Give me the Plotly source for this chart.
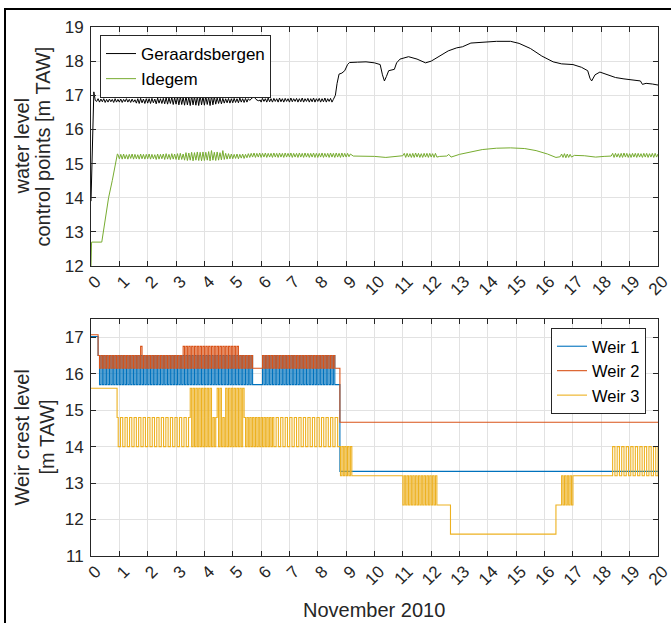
import plotly.graph_objects as go

# ---------------- data ----------------
x_ticks = list(range(0, 21))
x_tick_labels = [str(v) for v in x_ticks]
y1_ticks = [12, 13, 14, 15, 16, 17, 18, 19]
y2_ticks = [11, 12, 13, 14, 15, 16, 17]

# Geraardsbergen water level
ger_x = ([0, 0.05, 0.1, 0.15] +
         [0.2, 0.25, 0.3, 0.35, 0.4, 0.45, 0.5, 0.55, 0.6, 0.65, 0.7, 0.75, 0.8, 0.85, 0.9, 0.95] +
         [1.0, 1.05, 1.1, 1.15, 1.2, 1.25, 1.3, 1.35, 1.4, 1.45, 1.5, 1.55, 1.6, 1.65, 1.7, 1.75, 1.8, 1.85, 1.9, 1.95] +
         [2.0, 2.05, 2.1, 2.15, 2.2, 2.25, 2.3, 2.35, 2.4, 2.45, 2.5, 2.55, 2.6, 2.65, 2.7, 2.75, 2.8, 2.85, 2.9, 2.95] +
         [3.0, 3.05, 3.1, 3.15, 3.2, 3.25, 3.3, 3.35, 3.4, 3.45, 3.5, 3.55, 3.6, 3.65, 3.7, 3.75, 3.8, 3.85, 3.9, 3.95] +
         [4.0, 4.05, 4.1, 4.15, 4.2, 4.25, 4.3, 4.35, 4.4, 4.45, 4.5, 4.55, 4.6, 4.65, 4.7, 4.75, 4.8, 4.85, 4.9, 4.95] +
         [5.0, 5.05, 5.1, 5.15, 5.2, 5.25, 5.3, 5.35, 5.4, 5.45, 5.5, 5.55, 5.6] +
         [5.68, 5.75, 5.82, 5.9, 5.97] +
         [6.0, 6.05, 6.1, 6.15, 6.2, 6.25, 6.3, 6.35, 6.4, 6.45, 6.5, 6.55, 6.6, 6.65, 6.7, 6.75, 6.8, 6.85, 6.9, 6.95] +
         [7.0, 7.05, 7.1, 7.15, 7.2, 7.25, 7.3, 7.35, 7.4, 7.45, 7.5, 7.55, 7.6, 7.65, 7.7, 7.75, 7.8, 7.85, 7.9, 7.95] +
         [8.0, 8.05, 8.1, 8.15, 8.2, 8.25, 8.3, 8.35, 8.4, 8.45, 8.5, 8.55] +
         [8.62, 8.68, 8.75, 8.85, 8.95, 9.05, 9.12, 9.4, 9.7, 10.0, 10.2, 10.28, 10.35, 10.42, 10.5,
          10.7, 10.78, 10.9, 11.2, 11.5, 11.8, 12.0, 12.3, 12.6, 12.9, 13.1, 13.4, 13.8, 14.3, 14.8,
          15.1, 15.5, 15.9, 16.3, 16.6, 17.0, 17.3, 17.52, 17.6, 17.66, 17.78, 17.95, 18.2, 18.5,
          18.8, 19.1, 19.38, 19.45, 19.58, 19.8, 20.0])
ger_y = ([13.9, 15.9, 17.1, 16.85] +
         [16.82, 16.9, 16.8, 16.89, 16.81, 16.9, 16.79, 16.88, 16.8, 16.89, 16.81, 16.88, 16.79, 16.9, 16.8, 16.88] +
         [16.8, 16.89, 16.79, 16.88, 16.81, 16.9, 16.8, 16.88, 16.79, 16.89, 16.8, 16.87, 16.77, 16.9, 16.76, 16.91, 16.78, 16.89, 16.76, 16.9] +
         [16.77, 16.9, 16.76, 16.91, 16.78, 16.89, 16.75, 16.92, 16.77, 16.9, 16.76, 16.91, 16.75, 16.93, 16.74, 16.92, 16.76, 16.94, 16.73, 16.93] +
         [16.74, 16.95, 16.72, 16.96, 16.73, 16.94, 16.71, 16.97, 16.72, 16.95, 16.7, 16.98, 16.72, 16.96, 16.71, 16.97, 16.7, 16.99, 16.72, 16.96] +
         [16.71, 16.97, 16.73, 16.95, 16.7, 16.98, 16.72, 16.96, 16.74, 16.93, 16.76, 16.92, 16.75, 16.91, 16.77, 16.9, 16.78, 16.91, 16.77, 16.9] +
         [16.78, 16.91, 16.79, 16.9, 16.78, 16.92, 16.8, 16.9, 16.79, 16.91, 16.8, 16.9, 16.85] +
         [16.92, 16.96, 16.88, 16.84, 16.86] +
         [16.8, 16.91, 16.82, 16.9, 16.8, 16.92, 16.81, 16.9, 16.8, 16.91, 16.82, 16.9, 16.8, 16.92, 16.81, 16.9, 16.8, 16.91, 16.82, 16.9] +
         [16.8, 16.92, 16.81, 16.9, 16.82, 16.91, 16.8, 16.9, 16.81, 16.92, 16.8, 16.9, 16.82, 16.91, 16.8, 16.9, 16.81, 16.92, 16.8, 16.9] +
         [16.82, 16.91, 16.8, 16.9, 16.81, 16.92, 16.8, 16.9, 16.82, 16.91, 16.8, 16.88] +
         [17.0, 17.35, 17.62, 17.65, 17.72, 17.9, 17.96, 17.97, 17.98, 17.95, 17.9, 17.6, 17.42, 17.55, 17.72,
          17.76, 17.95, 18.06, 18.13, 18.06, 17.95, 18.0, 18.15, 18.3, 18.39, 18.42, 18.53, 18.55, 18.58, 18.58,
          18.52, 18.37, 18.15, 17.98, 17.92, 17.9, 17.82, 17.72, 17.5, 17.42, 17.6, 17.68, 17.6, 17.52,
          17.48, 17.45, 17.42, 17.32, 17.35, 17.33, 17.3])

# Idegem water level
ide_x = ([0, 0.02, 0.38, 0.55, 0.62, 0.75, 0.93] +
         [0.95] +
         [1.0, 1.05, 1.1, 1.15, 1.2, 1.25, 1.3, 1.35, 1.4, 1.45, 1.5, 1.55, 1.6, 1.65, 1.7, 1.75, 1.8, 1.85, 1.9, 1.95] +
         [2.0, 2.05, 2.1, 2.15, 2.2, 2.25, 2.3, 2.35, 2.4, 2.45, 2.5, 2.55, 2.6, 2.65, 2.7, 2.75, 2.8, 2.85, 2.9, 2.95] +
         [3.0, 3.05, 3.1, 3.15, 3.2, 3.25, 3.3, 3.35, 3.4, 3.45, 3.5, 3.55, 3.6, 3.65, 3.7, 3.75, 3.8, 3.85, 3.9, 3.95] +
         [4.0, 4.05, 4.1, 4.15, 4.2, 4.25, 4.3, 4.35, 4.4, 4.45, 4.5, 4.55, 4.6, 4.65, 4.7, 4.75, 4.8, 4.85, 4.9, 4.95] +
         [5.0, 5.05, 5.1, 5.15, 5.2, 5.25, 5.3, 5.35, 5.4, 5.45, 5.5, 5.55, 5.6, 5.65, 5.7, 5.75, 5.8, 5.85, 5.9, 5.95] +
         [6.0, 6.05, 6.1, 6.15, 6.2, 6.25, 6.3, 6.35, 6.4, 6.45, 6.5, 6.55, 6.6, 6.65, 6.7, 6.75, 6.8, 6.85, 6.9, 6.95] +
         [7.0, 7.05, 7.1, 7.15, 7.2, 7.25, 7.3, 7.35, 7.4, 7.45, 7.5, 7.55, 7.6, 7.65, 7.7, 7.75, 7.8, 7.85, 7.9, 7.95] +
         [8.0, 8.05, 8.1, 8.15, 8.2, 8.25, 8.3, 8.35, 8.4, 8.45, 8.5, 8.55, 8.6, 8.65, 8.7, 8.75, 8.8, 8.85, 8.9, 8.95] +
         [9.0, 9.05, 9.1, 9.15] +
         [9.25, 9.6, 10.0, 10.4, 10.8, 11.0] +
         [11.05, 11.1, 11.15, 11.2, 11.25, 11.3, 11.35, 11.4, 11.45, 11.5, 11.55, 11.6, 11.65, 11.7, 11.75,
          11.8, 11.85, 11.9, 11.95, 12.0, 12.05, 12.1, 12.15, 12.2] +
         [12.3, 12.55, 12.62, 12.7, 13.0, 13.4, 13.8, 14.3, 14.8, 15.3, 15.7, 16.1, 16.4, 16.55] +
         [16.6, 16.65, 16.7, 16.75, 16.8, 16.85, 16.9, 16.95] +
         [17.05, 17.4, 17.8, 18.1, 18.35] +
         [18.4, 18.45, 18.5, 18.55, 18.6, 18.65, 18.7, 18.75, 18.8, 18.85, 18.9, 18.95,
          19.0, 19.05, 19.1, 19.15, 19.2, 19.25, 19.3, 19.35, 19.4, 19.45, 19.5, 19.55,
          19.6, 19.65, 19.7, 19.75, 19.8, 19.85, 19.9, 19.95, 20.0])
ide_y = ([12.0, 12.7, 12.7, 13.6, 14.0, 14.5, 15.28] +
         [15.27] +
         [15.14, 15.27, 15.13, 15.28, 15.14, 15.26, 15.13, 15.27, 15.15, 15.28, 15.13, 15.27, 15.14, 15.26, 15.13, 15.28, 15.14, 15.27, 15.13, 15.27] +
         [15.14, 15.28, 15.13, 15.27, 15.14, 15.26, 15.12, 15.28, 15.13, 15.27, 15.14, 15.28, 15.12, 15.29, 15.13, 15.27, 15.12, 15.29, 15.13, 15.28] +
         [15.12, 15.29, 15.11, 15.3, 15.12, 15.28, 15.1, 15.32, 15.09, 15.31, 15.1, 15.33, 15.08, 15.32, 15.1, 15.34, 15.09, 15.33, 15.08, 15.34] +
         [15.09, 15.33, 15.1, 15.35, 15.08, 15.38, 15.1, 15.33, 15.09, 15.34, 15.1, 15.32, 15.11, 15.38, 15.12, 15.3, 15.13, 15.29, 15.14, 15.28] +
         [15.14, 15.27, 15.15, 15.28, 15.14, 15.27, 15.16, 15.28, 15.15, 15.27, 15.17, 15.29, 15.18, 15.3, 15.19, 15.31, 15.18, 15.3, 15.19, 15.31] +
         [15.18, 15.3, 15.19, 15.31, 15.18, 15.3, 15.19, 15.3, 15.18, 15.31, 15.19, 15.3, 15.18, 15.31, 15.19, 15.3, 15.18, 15.31, 15.19, 15.3] +
         [15.19, 15.31, 15.18, 15.3, 15.19, 15.3, 15.18, 15.31, 15.19, 15.3, 15.18, 15.31, 15.19, 15.3, 15.18, 15.3, 15.19, 15.31, 15.18, 15.3] +
         [15.18, 15.3, 15.19, 15.31, 15.18, 15.3, 15.19, 15.3, 15.18, 15.31, 15.19, 15.3, 15.18, 15.31, 15.19, 15.3, 15.18, 15.31, 15.19, 15.3] +
         [15.19, 15.3, 15.2, 15.28] +
         [15.22, 15.22, 15.21, 15.18, 15.22, 15.23] +
         [15.3, 15.18, 15.3, 15.19, 15.29, 15.18, 15.3, 15.18, 15.31, 15.19, 15.3, 15.18, 15.29, 15.18, 15.3,
          15.19, 15.3, 15.18, 15.3, 15.19, 15.29, 15.18, 15.3, 15.19] +
         [15.21, 15.22, 15.27, 15.19, 15.27, 15.35, 15.41, 15.45, 15.46, 15.44, 15.38, 15.28, 15.18, 15.2] +
         [15.28, 15.18, 15.29, 15.17, 15.28, 15.18, 15.27, 15.19] +
         [15.24, 15.23, 15.19, 15.21, 15.22] +
         [15.3, 15.18, 15.3, 15.19, 15.29, 15.18, 15.3, 15.18, 15.31, 15.19, 15.3, 15.18,
          15.29, 15.18, 15.3, 15.19, 15.3, 15.18, 15.3, 15.19, 15.29, 15.18, 15.3, 15.19,
          15.3, 15.18, 15.29, 15.19, 15.3, 15.18, 15.3, 15.19, 15.28])

# Weir 1 and Weir 2 share switching times
weir_t = ([0, 0.22] +
          [0.25, 0.3, 0.35, 0.4, 0.45, 0.5, 0.55, 0.6, 0.65, 0.7, 0.75, 0.8, 0.85, 0.9, 0.95] +
          [1.0, 1.05, 1.1, 1.15, 1.2, 1.25, 1.3, 1.35, 1.4, 1.45, 1.5, 1.55, 1.6, 1.65, 1.7, 1.75, 1.8, 1.85, 1.9, 1.95] +
          [2.0, 2.05, 2.1, 2.15, 2.2, 2.25, 2.3, 2.35, 2.4, 2.45, 2.5, 2.55, 2.6, 2.65, 2.7, 2.75, 2.8, 2.85, 2.9, 2.95] +
          [3.0, 3.05, 3.1, 3.15, 3.2, 3.25, 3.3, 3.35, 3.4, 3.45, 3.5, 3.55, 3.6, 3.65, 3.7, 3.75, 3.8, 3.85, 3.9, 3.95] +
          [4.0, 4.05, 4.1, 4.15, 4.2, 4.25, 4.3, 4.35, 4.4, 4.45, 4.5, 4.55, 4.6, 4.65, 4.7, 4.75, 4.8, 4.85, 4.9, 4.95] +
          [5.0, 5.05, 5.1, 5.15, 5.2, 5.25, 5.3, 5.35, 5.4, 5.45, 5.5, 5.55, 5.6, 5.65] +
          [5.7] +
          [6.05, 6.1, 6.15, 6.2, 6.25, 6.3, 6.35, 6.4, 6.45, 6.5, 6.55, 6.6, 6.65, 6.7, 6.75, 6.8, 6.85, 6.9, 6.95] +
          [7.0, 7.05, 7.1, 7.15, 7.2, 7.25, 7.3, 7.35, 7.4, 7.45, 7.5, 7.55, 7.6, 7.65, 7.7, 7.75, 7.8, 7.85, 7.9, 7.95] +
          [8.0, 8.05, 8.1, 8.15, 8.2, 8.25, 8.3, 8.35, 8.4, 8.45, 8.5, 8.55] +
          [8.6, 8.68, 8.78, 20.0])
weir1_y = ([17.02, 17.02] +
           [16.5, 15.7, 16.5, 15.7, 16.5, 15.7, 16.5, 15.7, 16.5, 15.7, 16.5, 15.7, 16.5, 15.7, 16.5] +
           [15.7, 16.5, 15.7, 16.5, 15.7, 16.5, 15.7, 16.5, 15.7, 16.5, 15.7, 16.5, 15.7, 16.5, 15.7, 16.5, 15.7, 16.5, 15.7, 16.5] +
           [15.7, 16.5, 15.7, 16.5, 15.7, 16.5, 15.7, 16.5, 15.7, 16.5, 15.7, 16.5, 15.7, 16.5, 15.7, 16.5, 15.7, 16.5, 15.7, 16.5] +
           [15.7, 16.5, 15.7, 16.5, 15.7, 16.5, 15.7, 16.5, 15.7, 16.5, 15.7, 16.5, 15.7, 16.5, 15.7, 16.5, 15.7, 16.5, 15.7, 16.5] +
           [15.7, 16.5, 15.7, 16.5, 15.7, 16.5, 15.7, 16.5, 15.7, 16.5, 15.7, 16.5, 15.7, 16.5, 15.7, 16.5, 15.7, 16.5, 15.7, 16.5] +
           [15.7, 16.5, 15.7, 16.5, 15.7, 16.5, 15.7, 16.5, 15.7, 16.5, 15.7, 16.5, 15.7, 16.5] +
           [15.7] +
           [16.5, 15.7, 16.5, 15.7, 16.5, 15.7, 16.5, 15.7, 16.5, 15.7, 16.5, 15.7, 16.5, 15.7, 16.5, 15.7, 16.5, 15.7, 16.5] +
           [15.7, 16.5, 15.7, 16.5, 15.7, 16.5, 15.7, 16.5, 15.7, 16.5, 15.7, 16.5, 15.7, 16.5, 15.7, 16.5, 15.7, 16.5, 15.7, 16.5] +
           [15.7, 16.5, 15.7, 16.5, 15.7, 16.5, 15.7, 16.5, 15.7, 16.5, 15.7, 16.5] +
           [15.7, 15.7, 13.32, 13.32])
weir2_y = ([17.07, 17.07] +
           [16.5, 16.15, 16.5, 16.15, 16.5, 16.15, 16.5, 16.15, 16.5, 16.15, 16.5, 16.15, 16.5, 16.15, 16.5] +
           [16.15, 16.5, 16.15, 16.5, 16.15, 16.5, 16.15, 16.5, 16.15, 16.5, 16.15, 16.5, 16.15, 16.5, 16.15, 16.75, 16.15, 16.5, 16.15, 16.5] +
           [16.15, 16.5, 16.15, 16.5, 16.15, 16.5, 16.15, 16.5, 16.15, 16.5, 16.15, 16.5, 16.15, 16.5, 16.15, 16.5, 16.15, 16.5, 16.15, 16.5] +
           [16.15, 16.5, 16.15, 16.5, 16.15, 16.75, 16.15, 16.75, 16.15, 16.75, 16.15, 16.75, 16.15, 16.75, 16.15, 16.75, 16.15, 16.75, 16.15, 16.75] +
           [16.15, 16.75, 16.15, 16.75, 16.15, 16.75, 16.15, 16.75, 16.15, 16.75, 16.15, 16.75, 16.15, 16.75, 16.15, 16.75, 16.15, 16.75, 16.15, 16.75] +
           [16.15, 16.75, 16.15, 16.75, 16.15, 16.5, 16.15, 16.5, 16.15, 16.5, 16.15, 16.5, 16.15, 16.5] +
           [16.15] +
           [16.5, 16.15, 16.5, 16.15, 16.5, 16.15, 16.5, 16.15, 16.5, 16.15, 16.5, 16.15, 16.5, 16.15, 16.5, 16.15, 16.5, 16.15, 16.5] +
           [16.15, 16.5, 16.15, 16.5, 16.15, 16.5, 16.15, 16.5, 16.15, 16.5, 16.15, 16.5, 16.15, 16.5, 16.15, 16.5, 16.15, 16.5, 16.15, 16.5] +
           [16.15, 16.5, 16.15, 16.5, 16.15, 16.5, 16.15, 16.5, 16.15, 16.5, 16.15, 16.5] +
           [16.15, 16.15, 14.67, 14.67])

# Weir 3
weir3_x = ([0, 0.92] +
           [0.96, 1.04, 1.12, 1.2, 1.28, 1.36, 1.44, 1.52, 1.6, 1.68, 1.76, 1.84, 1.92, 2.0, 2.08, 2.16,
            2.24, 2.32, 2.4, 2.48, 2.56, 2.64, 2.72, 2.8, 2.88, 2.96, 3.04, 3.12, 3.2, 3.28, 3.36, 3.44] +
           [3.5, 3.55, 3.6, 3.65, 3.7, 3.75, 3.8, 3.85, 3.9, 3.95, 4.0, 4.05, 4.1, 4.15, 4.2, 4.25] +
           [4.3, 4.35, 4.4, 4.45, 4.5, 4.55, 4.6, 4.65, 4.7] +
           [4.75, 4.8, 4.85, 4.9, 4.95, 5.0, 5.05, 5.1, 5.15, 5.2, 5.25, 5.3, 5.35] +
           [5.4, 5.45, 5.5, 5.55, 5.6, 5.65, 5.7, 5.75, 5.8, 5.85, 5.9, 5.95, 6.0, 6.05, 6.1, 6.15, 6.2, 6.25, 6.3, 6.35, 6.4] +
           [6.45, 6.53, 6.61, 6.69, 6.77, 6.85, 6.93, 7.01, 7.09, 7.17, 7.25, 7.33, 7.41, 7.49,
            7.57, 7.65, 7.73, 7.81, 7.89, 7.97, 8.05, 8.13, 8.21, 8.29, 8.37, 8.45, 8.53, 8.61] +
           [8.7, 8.8] +
           [8.85, 8.9, 8.95, 9.0, 9.05, 9.1, 9.15] +
           [9.2] +
           [11.0, 11.05, 11.1, 11.15, 11.2, 11.25, 11.3, 11.35, 11.4, 11.45, 11.5, 11.55, 11.6,
            11.65, 11.7, 11.75, 11.8, 11.85, 11.9, 11.95, 12.0, 12.05, 12.1, 12.15, 12.2] +
           [12.25, 12.68, 16.4] +
           [16.6, 16.65, 16.7, 16.75, 16.8, 16.85, 16.9, 16.95] +
           [17.0] +
           [18.4, 18.48, 18.56, 18.64, 18.72, 18.8, 18.88, 18.96, 19.04, 19.12, 19.2,
            19.28, 19.36, 19.44, 19.52, 19.6, 19.68, 19.76, 19.84, 19.92, 20.0])
weir3_y = ([15.6, 14.8] +
           [14.0, 14.8, 14.0, 14.8, 14.0, 14.8, 14.0, 14.8, 14.0, 14.8, 14.0, 14.8, 14.0, 14.8, 14.0, 14.8,
            14.0, 14.8, 14.0, 14.8, 14.0, 14.8, 14.0, 14.8, 14.0, 14.8, 14.0, 14.8, 14.0, 14.8, 14.0, 14.8] +
           [15.6, 14.0, 15.6, 14.0, 15.6, 14.0, 15.6, 14.0, 15.6, 14.0, 15.6, 14.0, 15.6, 14.0, 15.6, 14.0] +
           [14.8, 14.0, 14.8, 15.6, 14.0, 15.6, 14.0, 14.8, 14.0] +
           [15.6, 14.0, 15.6, 14.0, 15.6, 14.0, 15.6, 14.0, 15.6, 14.0, 15.6, 14.0, 15.6] +
           [14.8, 14.0, 14.8, 14.0, 14.8, 14.0, 14.8, 14.0, 14.8, 14.0, 14.8, 14.0, 14.8, 14.0, 14.8, 14.0, 14.8, 14.0, 14.8, 14.0, 14.8] +
           [14.0, 14.8, 14.0, 14.8, 14.0, 14.8, 14.0, 14.8, 14.0, 14.8, 14.0, 14.8, 14.0, 14.8,
            14.0, 14.8, 14.0, 14.8, 14.0, 14.8, 14.0, 14.8, 14.0, 14.8, 14.0, 14.8, 14.0, 14.8] +
           [14.0, 13.2] +
           [14.0, 13.2, 14.0, 13.2, 14.0, 13.2, 14.0] +
           [13.2] +
           [12.4, 13.2, 12.4, 13.2, 12.4, 13.2, 12.4, 13.2, 12.4, 13.2, 12.4, 13.2, 12.4,
            13.2, 12.4, 13.2, 12.4, 13.2, 12.4, 13.2, 12.4, 13.2, 12.4, 13.2, 12.4] +
           [12.4, 11.6, 12.4] +
           [13.2, 12.4, 13.2, 12.4, 13.2, 12.4, 13.2, 12.4] +
           [13.2] +
           [14.0, 13.2, 14.0, 13.2, 14.0, 13.2, 14.0, 13.2, 14.0, 13.2, 14.0,
            13.2, 14.0, 13.2, 14.0, 13.2, 14.0, 13.2, 14.0, 13.2, 14.0])

# ---------------- figure ----------------
W, H = 671, 623
FONT = "Liberation Sans, Arial, sans-serif"
AX = "#262626"
GRID = "#e2e2e2"

def px_x(p):
    return p / W

def px_y(p):
    return 1 - p / H

fig = go.Figure()
fig.add_trace(go.Scatter(x=ger_x, y=ger_y, mode="lines", name="Geraardsbergen",
                         line=dict(color="#000000", width=1), xaxis="x", yaxis="y", legend="legend"))
fig.add_trace(go.Scatter(x=ide_x, y=ide_y, mode="lines", name="Idegem",
                         line=dict(color="#77AC30", width=1), xaxis="x", yaxis="y", legend="legend"))
fig.add_trace(go.Scatter(x=weir_t, y=weir1_y, mode="lines", name="Weir 1", line_shape="hv",
                         line=dict(color="#0072BD", width=1.1), xaxis="x2", yaxis="y2", legend="legend2"))
fig.add_trace(go.Scatter(x=weir_t, y=weir2_y, mode="lines", name="Weir 2", line_shape="hv",
                         line=dict(color="#D95319", width=1.1), xaxis="x2", yaxis="y2", legend="legend2"))
fig.add_trace(go.Scatter(x=weir3_x, y=weir3_y, mode="lines", name="Weir 3", line_shape="hv",
                         line=dict(color="#EDB120", width=1.1), xaxis="x2", yaxis="y2", legend="legend2"))

xdom = [px_x(91), px_x(658)]
common_x = dict(range=[0, 20], tickmode="array", tickvals=x_ticks, ticktext=x_tick_labels,
                tickangle=-45, ticks="inside", ticklen=5, tickcolor=AX, tickwidth=1,
                showline=True, linecolor=AX, linewidth=1, mirror="ticks",
                showgrid=True, gridcolor=GRID, gridwidth=1, zeroline=False, automargin=False,
                tickfont=dict(family=FONT, size=17, color=AX), ticklabelshift=5, ticklabelstandoff=-2,
                ticklabeloverflow="allow", domain=xdom)
common_y = dict(ticks="inside", ticklen=5, tickcolor=AX, tickwidth=1,
                showline=True, linecolor=AX, linewidth=1, mirror="ticks",
                showgrid=True, gridcolor=GRID, gridwidth=1, zeroline=False, automargin=False,
                tickfont=dict(family=FONT, size=17, color=AX), ticklabelstandoff=3,
                ticklabeloverflow="allow")

fig.update_layout(
    width=W, height=H,
    margin=dict(l=0, r=0, t=0, b=0, autoexpand=False),
    paper_bgcolor="white", plot_bgcolor="white",
    font=dict(family=FONT, color=AX),
    xaxis=dict(common_x, anchor="y"),
    yaxis=dict(common_y, range=[12, 19], tickvals=y1_ticks,
               domain=[px_y(266), px_y(27)], anchor="x"),
    xaxis2=dict(common_x, anchor="y2"),
    yaxis2=dict(common_y, range=[11, 17.5], tickvals=y2_ticks,
                domain=[px_y(556), px_y(319)], anchor="x2"),
    legend=dict(x=px_x(100), y=px_y(35), xanchor="left", yanchor="top",
                bgcolor="white", bordercolor=AX, borderwidth=1,
                font=dict(family=FONT, size=17, color="#000000"), tracegroupgap=0),
    legend2=dict(x=px_x(551), y=px_y(328), xanchor="left", yanchor="top",
                 bgcolor="white", bordercolor=AX, borderwidth=1,
                 font=dict(family=FONT, size=16.5, color="#000000"), tracegroupgap=0),
    showlegend=True,
)

title_font = dict(family=FONT, size=20, color=AX)
annots = [
    dict(text="water level", x=px_x(22), y=px_y(146.5), textangle=-90),
    dict(text="control points [m TAW]", x=px_x(43), y=px_y(146.5), textangle=-90),
    dict(text="Weir crest level", x=px_x(21), y=px_y(437.5), textangle=-90),
    dict(text="[m TAW]", x=px_x(46), y=px_y(437.5), textangle=-90),
    dict(text="November 2010", x=px_x(374), y=px_y(610), textangle=0),
]
for a in annots:
    fig.add_annotation(xref="paper", yref="paper", showarrow=False, xanchor="center",
                       yanchor="middle", font=title_font, **a)

# outer frame around the whole figure (cut off at right and bottom)
fig.add_shape(type="rect", xref="paper", yref="paper",
              x0=px_x(5), x1=1.05, y0=-0.05, y1=px_y(9),
              line=dict(color="#000000", width=2), fillcolor="rgba(0,0,0,0)", layer="above")

fig.write_html("out.html", config={"displayModeBar": False},
               post_script="document.body.style.margin='0px';document.body.style.overflow='hidden';")
